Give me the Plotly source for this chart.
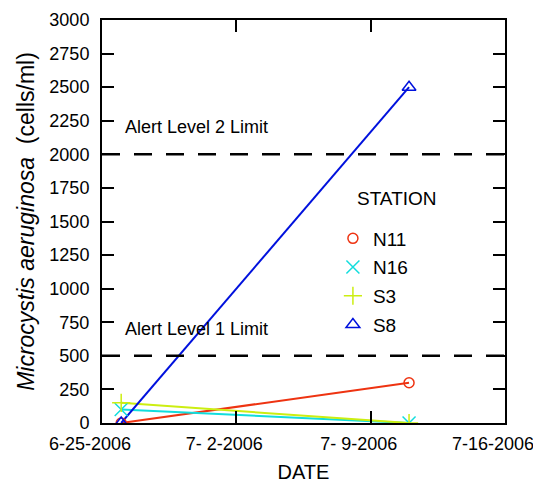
import plotly.graph_objects as go

dates = ["2006-06-26", "2006-07-11"]
stations = ["N11", "N16", "S3", "S8"]
values = {
    "N11": [0, 300],
    "N16": [100, 0],
    "S3": [150, 0],
    "S8": [0, 2500],
}
colors = {"N11": "#ee3311", "N16": "#11dddd", "S3": "#ccee11", "S8": "#0011dd"}
symbols = {"N11": "circle-open", "N16": "x-thin-open", "S3": "cross-thin-open", "S8": "triangle-up-open"}
sizes = {"N11": 10, "N16": 13, "S3": 13, "S8": 12}

xtick_vals = ["2006-06-25", "2006-07-02", "2006-07-09", "2006-07-16"]
xtick_text = ["6-25-2006", "7- 2-2006", "7- 9-2006", "7-16-2006"]
ytick_vals = list(range(0, 3001, 250))
alert_levels = [500, 2000]
alert_labels = ["Alert Level 1 Limit", "Alert Level 2 Limit"]

FONT = "Liberation Sans, Arial, sans-serif"

fig = go.Figure()
for s in stations:
    fig.add_trace(go.Scatter(
        x=dates, y=values[s], mode="lines", line=dict(color=colors[s], width=2),
        showlegend=False, hoverinfo="skip"))
for s in stations:
    fig.add_trace(go.Scatter(
        x=dates, y=values[s], mode="markers", name=s, legendgroup=s,
        marker=dict(symbol=symbols[s], size=sizes[s], color=colors[s],
                    line=dict(color=colors[s], width=1.5))))

for lvl, lab in zip(alert_levels, alert_labels):
    fig.add_hline(y=lvl, line=dict(color="black", width=2.5, dash="18px,14px"))
    fig.add_annotation(x="2006-06-26 02:00", y=lvl + 200, text=lab, showarrow=False,
                       xanchor="left", yanchor="middle",
                       font=dict(size=18, color="black", family=FONT))

fig.add_annotation(xref="paper", yref="paper", x=0.628, y=0.558, text="STATION",
                   showarrow=False, xanchor="left", yanchor="middle",
                   font=dict(size=19, color="black", family=FONT))

axis_common = dict(
    showline=True, linecolor="black", linewidth=2, mirror="ticks",
    ticks="inside", ticklen=12, tickwidth=2, tickcolor="black",
    showgrid=False, zeroline=False, automargin=False,
)

fig.update_xaxes(
    type="date", range=["2006-06-25", "2006-07-16"],
    tickvals=xtick_vals, ticktext=xtick_text, ticklabelshift=-12, ticklabelstandoff=3,
    tickfont=dict(size=18, color="black", family=FONT),
    title=dict(text="DATE", font=dict(size=20, color="black", family=FONT), standoff=14),
    **axis_common)
fig.update_yaxes(
    range=[0, 3000], tickvals=ytick_vals, ticklabelstandoff=7,
    tickfont=dict(size=18, color="black", family=FONT),
    title=dict(text="<i>Microcystis aeruginosa</i>  (cells/ml)",
               font=dict(size=23, color="black", family=FONT), standoff=8),
    **axis_common)

# page body has an 8px margin; compensate so plot area lands where the reference has it
fig.update_layout(
    width=533, height=475,
    margin=dict(l=94, r=36, t=12, b=60),
    plot_bgcolor="white", paper_bgcolor="white",
    font=dict(family=FONT, color="black"),
    legend=dict(x=0.573, y=0.505, xanchor="left", yanchor="top",
                bgcolor="rgba(0,0,0,0)", traceorder="grouped", tracegroupgap=1,
                font=dict(size=19, color="black", family=FONT)),
)

fig.write_html("out.html")
